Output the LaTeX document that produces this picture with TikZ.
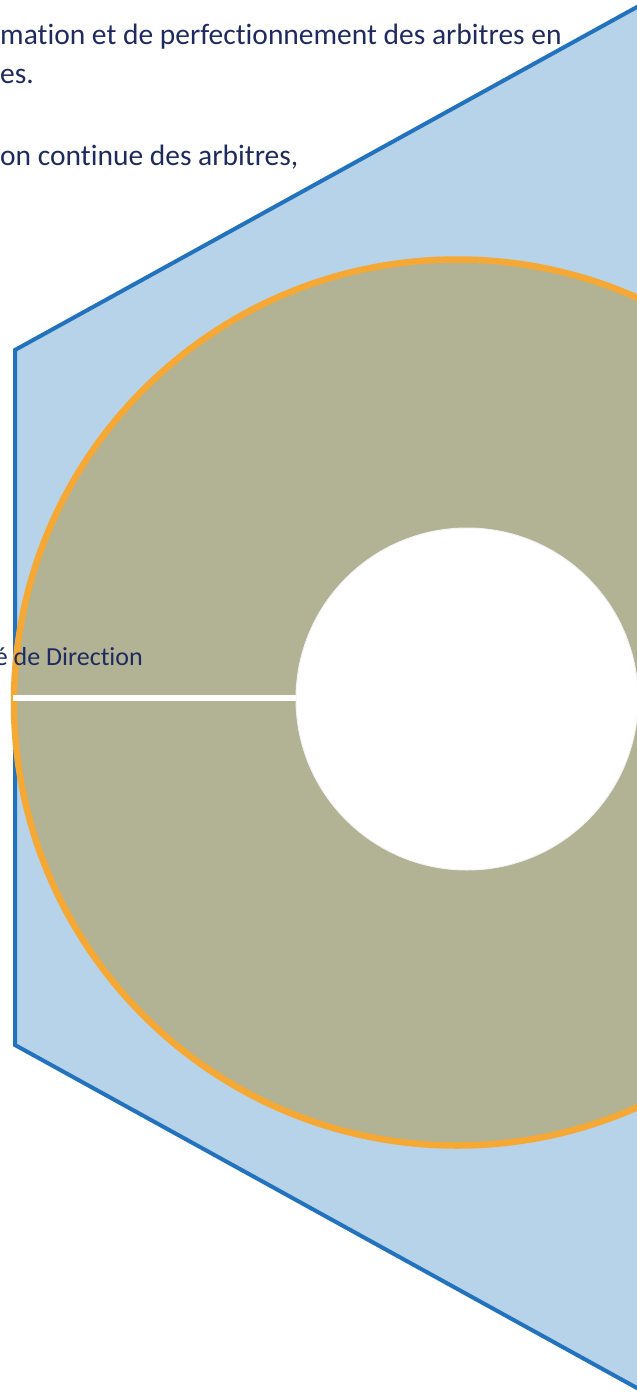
\documentclass[tikz,border=0pt]{standalone}
\usepackage{fontspec}
\setmainfont{Carlito}[Ligatures=NoCommon]
\definecolor{hexfill}{HTML}{B7D3E9}
\definecolor{hexline}{HTML}{2272BD}
\definecolor{ringfill}{HTML}{B2B295}
\definecolor{ringline}{HTML}{F6A835}
\definecolor{txt}{HTML}{1F2B5F}
\begin{document}
\begin{tikzpicture}[x=1pt,y=-1pt,
  toptext/.style={font=\fontsize{29.5}{35}\selectfont, text=txt, inner sep=0pt, anchor=base west},
  labeltext/.style={font=\fontsize{26}{31}\selectfont, text=txt, inner sep=0pt, anchor=base east},
  hexshape/.style={draw=hexline, fill=hexfill, line width=4pt, line join=miter},
  ringshape/.style={draw=ringline, fill=ringfill, line width=6.5pt},
  holeshape/.style={circle, fill=white, draw=black!5, line width=1pt, minimum size=342pt, inner sep=0pt},
  barline/.style={draw=white, line width=6pt}]
\useasboundingbox (0,0) rectangle (637,1392);
\clip (0,0) rectangle (637,1392);
% hexagon (extends past the right edge)
\path[hexshape] (15,1045) -- (15,350) -- (800,-82.9) -- (800,1477.9) -- cycle;
% ring
\path[ringshape] (457,702.5) circle[radius=443pt];
% hole
\node[holeshape] (hole) at (467,699) {};
% white bar
\coordinate (barL) at (13,698);
\draw[barline] (barL) -- (barL -| hole.west);
% texts
\node[toptext] (t1) at (0,44) {mation et de perfectionnement des arbitres en};
\node[toptext] (t2) at (0,83) {es.};
\node[toptext] (t3) at (0,165) {on continue des arbitres,};
\node[labeltext] (lab) at (143,665) {é de Direction};
\end{tikzpicture}
\end{document}
